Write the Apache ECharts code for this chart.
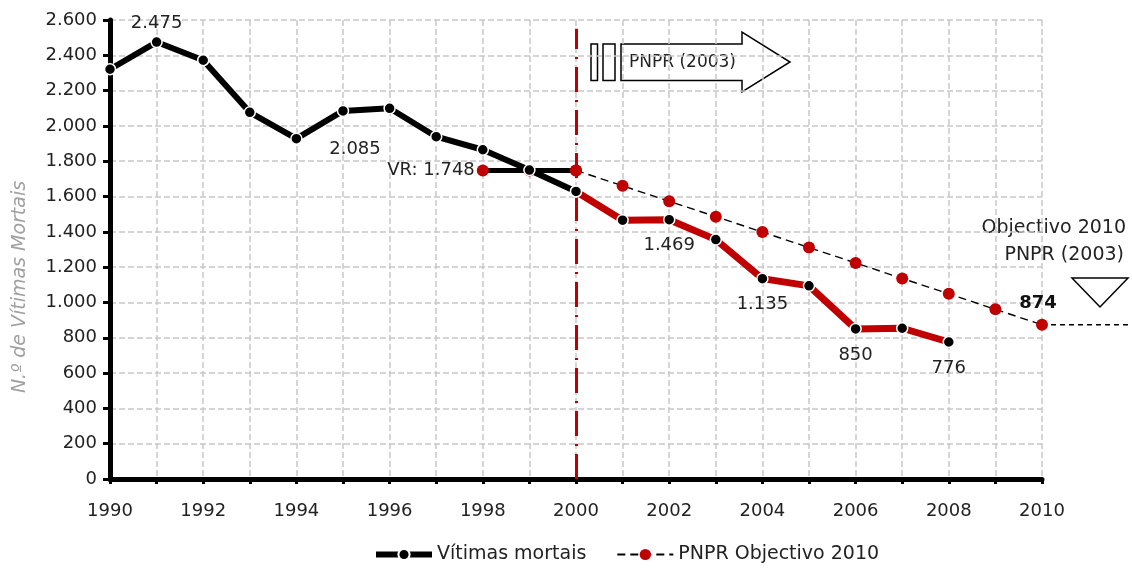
<!DOCTYPE html>
<html>
<head>
<meta charset="utf-8">
<script src="https://cdn.jsdelivr.net/npm/echarts@6/dist/echarts.min.js"></script>
<style>
  html, body { margin: 0; padding: 0; background: #fff; }
  #chart { width: 1132px; height: 572px; }
</style>
</head>
<body>
<div id="chart"></div>
<script>
// valores
var anosVitimas = [1990, 1991, 1992, 1993, 1994, 1995, 1996, 1997, 1998, 1999, 2000,
                   2001, 2002, 2003, 2004, 2005, 2006, 2007, 2008];
var vitimas = [2321, 2475, 2372, 2077, 1928, 2085, 2100, 1939, 1865, 1750, 1629,
               1466, 1469, 1356, 1135, 1094, 850, 854, 776];
var anosPnpr = [1998, 1999, 2000, 2001, 2002, 2003, 2004, 2005, 2006, 2007, 2008, 2009, 2010];
var pnpr = [1748, 1748, 1748, 1661, 1573, 1486, 1399, 1311, 1224, 1136, 1049, 961, 874];
var yTicks = [0, 200, 400, 600, 800, 1000, 1200, 1400, 1600, 1800, 2000, 2200, 2400, 2600];
var anoInicioPnpr = 2000;

var FONTE = 'DejaVu Sans';
var VERMELHO = '#c00000';

function fmt(v) {
    if (v >= 1000) {
        return Math.floor(v / 1000) + '.' + String(v % 1000).padStart(3, '0');
    }
    return String(v);
}

function pares(anos, vals, de, ate) {
    var out = [];
    for (var i = 0; i < anos.length; i++) {
        if (anos[i] >= de && anos[i] <= ate) out.push([anos[i], vals[i]]);
    }
    return out;
}

// rotulos de dados (posicao por ano)
var rotVitimas = {
    1991: {position: 'top', distance: 3},
    1995: {position: 'bottom', distance: 23, offset: [12, 0]},
    2002: {position: 'bottom', distance: 10},
    2004: {position: 'bottom', distance: 10},
    2006: {position: 'bottom', distance: 11},
    2008: {position: 'bottom', distance: 11}
};

function comRotulos(dados, rot) {
    return dados.map(function (d) {
        var r = rot[d[0]];
        if (!r) return d;
        return {
            value: d,
            label: Object.assign({
                show: true,
                formatter: function (p) { return fmt(p.value[1]); },
                fontFamily: FONTE, fontSize: 18, color: '#222'
            }, r)
        };
    });
}

var dom = document.getElementById('chart');
var myChart = echarts.init(dom);

var vrDados = pares(anosPnpr, pnpr, 1998, anoInicioPnpr).map(function (d, i) {
    if (i === 0) {
        return {value: d, label: {show: true, position: 'left', distance: 2,
            formatter: function (p) { return 'VR: ' + fmt(p.value[1]); },
            fontFamily: FONTE, fontSize: 18, color: '#222'}};
    }
    return d;
});

var pnprDados = pares(anosPnpr, pnpr, anoInicioPnpr, 2010).map(function (d) {
    if (d[0] === 2010) {
        return {value: d, label: {show: true, position: 'top', distance: 6, offset: [-4, 0],
            formatter: function (p) { return fmt(p.value[1]); },
            fontFamily: FONTE, fontSize: 18, fontWeight: 'bold', color: '#111'}};
    }
    return d;
});

option = {
    backgroundColor: '#fff',
    animation: false,
    textStyle: {fontFamily: FONTE},
    grid: {left: 110, right: 90, top: 20, bottom: 93},
    legend: {
        bottom: 3,
        left: 368,
        itemWidth: 56,
        itemHeight: 14,
        itemGap: 30,
        textStyle: {fontFamily: FONTE, fontSize: 19, color: '#222'},
        data: [
            {name: 'Vítimas mortais', lineStyle: {width: 6}},
            {name: 'PNPR Objectivo 2010'}
        ]
    },
    xAxis: {
        type: 'value',
        min: 1990, max: 2010, interval: 1,
        axisLine: {lineStyle: {color: '#000', width: 5}},
        axisTick: {length: 5, lineStyle: {color: '#000', width: 3}},
        axisLabel: {
            margin: 23, fontFamily: FONTE, fontSize: 18, color: '#222',
            formatter: function (v) { return v % 2 === 0 ? String(v) : ''; }
        },
        splitLine: {show: true, lineStyle: {color: '#c8c8c8', type: [6, 3], width: 1.5}}
    },
    yAxis: {
        type: 'value',
        min: yTicks[0], max: yTicks[yTicks.length - 1], interval: 200,
        axisLine: {show: true, lineStyle: {color: '#000', width: 5}},
        axisTick: {show: true, length: 7, lineStyle: {color: '#000', width: 3}},
        axisLabel: {margin: 13, fontFamily: FONTE, fontSize: 18, color: '#222', formatter: fmt},
        splitLine: {show: true, lineStyle: {color: '#c8c8c8', type: [6, 3], width: 1.5}}
    },
    graphic: [
        {type: 'text', x: 20, y: 287, rotation: Math.PI / 2,
         style: {text: 'N.º de Vítimas Mortais', fontFamily: FONTE, fontSize: 19, fontStyle: 'italic',
                 fill: '#a0a0a0', align: 'center', verticalAlign: 'middle'}},
        {type: 'rect', shape: {x: 591, y: 44, width: 6.5, height: 36.5},
         style: {fill: '#fff', stroke: '#000', lineWidth: 1.5}},
        {type: 'rect', shape: {x: 603, y: 44, width: 12, height: 36.5},
         style: {fill: '#fff', stroke: '#000', lineWidth: 1.5}},
        {type: 'polygon', shape: {points: [[621, 44], [742, 44], [742, 32], [790, 62], [742, 92], [742, 80.5], [621, 80.5]]},
         style: {fill: '#fff', stroke: '#000', lineWidth: 1.5}},
        {type: 'text', x: 629, y: 63,
         style: {text: 'PNPR (2003)', fontFamily: FONTE, fontSize: 17, fill: '#222', verticalAlign: 'middle'}},
        {type: 'text', x: 1126, y: 228,
         style: {text: 'Objectivo 2010', fontFamily: FONTE, fontSize: 19, fill: '#222', align: 'right', verticalAlign: 'middle'}},
        {type: 'text', x: 1124, y: 255,
         style: {text: 'PNPR (2003)', fontFamily: FONTE, fontSize: 19, fill: '#222', align: 'right', verticalAlign: 'middle'}},
        {type: 'polygon', shape: {points: [[1072, 278], [1128, 278], [1100, 307]]},
         style: {fill: '#fff', stroke: '#000', lineWidth: 1.5}}
    ],
    series: [
        {
            name: 'Vítimas mortais',
            type: 'line',
            z: 5,
            data: comRotulos(pares(anosVitimas, vitimas, 1990, anoInicioPnpr), rotVitimas),
            lineStyle: {color: '#000', width: 6},
            symbol: 'circle', symbolSize: 11,
            itemStyle: {color: '#000', borderColor: '#fff', borderWidth: 1.5},
            markLine: {
                silent: true, symbol: 'none', z: 1,
                label: {show: false},
                lineStyle: {color: VERMELHO, width: 3, type: [25, 8, 2, 8]},
                data: [[{coord: [anoInicioPnpr, 0]}, {coord: [anoInicioPnpr, 2550]}]]
            }
        },
        {
            name: 'Vítimas mortais PNPR',
            type: 'line',
            z: 5,
            data: comRotulos(pares(anosVitimas, vitimas, anoInicioPnpr, 2010), rotVitimas),
            lineStyle: {color: VERMELHO, width: 7},
            symbol: 'circle', symbolSize: 11,
            itemStyle: {color: '#000', borderColor: '#fff', borderWidth: 1.5}
        },
        {
            name: 'VR',
            type: 'line',
            z: 4,
            data: vrDados,
            lineStyle: {color: '#000', width: 5},
            symbol: 'circle', symbolSize: 12,
            itemStyle: {color: VERMELHO}
        },
        {
            name: 'PNPR Objectivo 2010',
            type: 'line',
            z: 4,
            data: pnprDados,
            lineStyle: {color: '#000', width: 1.4, type: [8, 5]},
            symbol: 'circle', symbolSize: 12,
            itemStyle: {color: VERMELHO}
        }
    ]
};

if (option && typeof option === 'object') {
    myChart.setOption(option, true);
    // prolongamento tracejado do objectivo 2010 para la do eixo
    var p = myChart.convertToPixel({gridIndex: 0}, [2010, pnpr[pnpr.length - 1]]);
    myChart.setOption({
        graphic: option.graphic.concat([{
            type: 'line', z: 3,
            shape: {x1: p[0], y1: p[1], x2: 1128, y2: p[1]},
            style: {stroke: '#000', lineWidth: 1.4, lineDash: [5, 4]}
        }])
    });
}
</script>
</body>
</html>
